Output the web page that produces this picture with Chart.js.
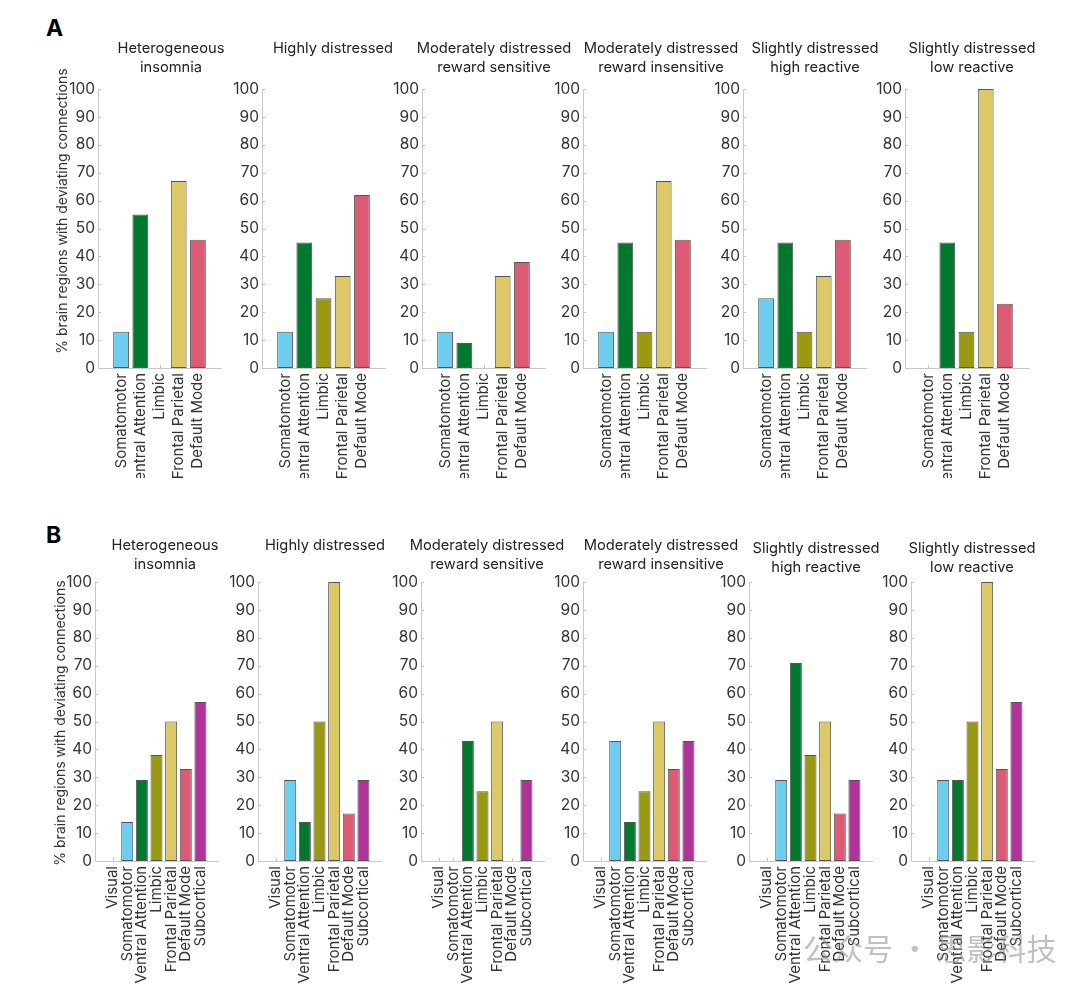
<!DOCTYPE html>
<html>
<head>
<meta charset="utf-8">
<script src="https://cdn.jsdelivr.net/npm/chart.js@4.4.1/dist/chart.umd.min.js"></script>
<style>
  body { margin: 0; background: #fff; }
  #wrap { position: relative; width: 1080px; height: 991px; overflow: hidden; }
  #wrap canvas { position: absolute; }
  .tag { position: absolute; font: bold 23px Inter, sans-serif; color: #000; }
  .mark { position: absolute; left: 803px; top: 925px; z-index: 5; white-space: nowrap;
          font: 30px "Noto Sans CJK SC"; color: rgba(140, 140, 140, 0.55); }
</style>
</head>
<body>
<div id="wrap">
  <div class="tag" style="left:46px; top:14px;">A</div>
  <div class="tag" style="left:46px; top:521px;">B</div>
  <div class="mark">公众号 · 思影科技</div>
</div>
<script>
// categories
var networksA = ['Somatomotor', 'Ventral Attention', 'Limbic', 'Frontal Parietal', 'Default Mode'];
var networksB = ['Visual', 'Somatomotor', 'Ventral Attention', 'Limbic', 'Frontal Parietal', 'Default Mode', 'Subcortical'];
var yTicks = [0, 10, 20, 30, 40, 50, 60, 70, 80, 90, 100];
var yTitle = '% brain regions with deviating connections';

var groupTitles = [
    ['Heterogeneous', 'insomnia'],
    ['Highly distressed'],
    ['Moderately distressed', 'reward sensitive'],
    ['Moderately distressed', 'reward insensitive'],
    ['Slightly distressed', 'high reactive'],
    ['Slightly distressed', 'low reactive']
];

// row A, % per network
var heteroA = [13, 55, 0, 67, 46];
var highlyA = [13, 45, 25, 33, 62];
var modSensA = [13, 9, 0, 33, 38];
var modInsensA = [13, 45, 13, 67, 46];
var slightHighA = [25, 45, 13, 33, 46];
var slightLowA = [0, 45, 13, 100, 23];

// row B, % per network
var heteroB = [0, 14, 29, 38, 50, 33, 57];
var highlyB = [0, 29, 14, 50, 100, 17, 29];
var modSensB = [0, 0, 43, 25, 50, 0, 29];
var modInsensB = [0, 43, 14, 25, 50, 33, 43];
var slightHighB = [0, 29, 71, 38, 50, 17, 29];
var slightLowB = [0, 29, 29, 50, 100, 33, 57];

var networkColors = {
    'Visual': '#332288',
    'Somatomotor': '#6ccdef',
    'Ventral Attention': '#00782d',
    'Limbic': '#999913',
    'Frontal Parietal': '#dcc866',
    'Default Mode': '#dc5a73',
    'Subcortical': '#b03399'
};

// panel placement (page pixels)
var rowA = { top: 30, plotTop: 89, plotBottom: 368, axisH: 110, titleTop: 49, yTitleX: 63, yTitleY: 211,
             axisX: [98, 262, 422, 583, 743, 905], titleDx: [73, 71, 72, 78, 72, 67], titleShift: [0, 0, 0, 0, 0, 0] };
var rowB = { top: 520, plotTop: 582, plotBottom: 861, axisH: 128, titleTop: 546, yTitleX: 61, yTitleY: 723,
             axisX: [95, 258, 421, 583, 749, 911], titleDx: [70, 67, 66, 78, 67, 61], titleShift: [0, 0, 0, 0, 3, 3] };
var plotW = 123;
var gap = 1.2;
var fontFam = 'Inter, sans-serif';

var panelDecor = {
    id: 'panelDecor',
    beforeDatasetsDraw: function(chart) {
        var ctx = chart.ctx, area = chart.chartArea;
        var xs = chart.scales.x, ys = chart.scales.y;
        ctx.save();
        ctx.strokeStyle = '#c4c4c4';
        ctx.lineWidth = 1;
        ctx.beginPath();
        yTicks.forEach(function(v) {
            var py = Math.round(ys.getPixelForValue(v)) + 0.5;
            ctx.moveTo(area.left, py);
            ctx.lineTo(area.left + 3, py);
        });
        xs.ticks.forEach(function(t) {
            var px = Math.round(xs.getPixelForValue(t.value)) + 0.5;
            ctx.moveTo(px, area.bottom);
            ctx.lineTo(px, area.bottom - 3);
        });
        ctx.stroke();
        ctx.restore();
    },
    afterDraw: function(chart, args, opts) {
        var ctx = chart.ctx, area = chart.chartArea;
        ctx.save();
        ctx.fillStyle = '#222';
        ctx.font = '14.7px ' + fontFam;
        ctx.textAlign = 'center';
        ctx.textBaseline = 'middle';
        opts.lines.forEach(function(line, i) {
            ctx.fillText(line, area.left + opts.dx, opts.y + i * 19);
        });
        if (opts.showYTitle) {
            ctx.translate(opts.yx, opts.yy);
            ctx.rotate(-Math.PI / 2);
            ctx.font = '14px ' + fontFam;
            ctx.fillStyle = '#333';
            ctx.fillText(yTitle, 0, 0);
        }
        ctx.restore();
    }
};

function drawPanel(row, idx, cats, values) {
    var yw = idx === 0 ? 62 : 40;
    var padR = 45;
    var left = row.axisX[idx] - yw;
    var width = yw + plotW + padR;
    var height = row.plotBottom - row.top + row.axisH;

    var canvas = document.createElement('canvas');
    canvas.width = width;
    canvas.height = height;
    canvas.style.left = left + 'px';
    canvas.style.top = row.top + 'px';
    document.getElementById('wrap').appendChild(canvas);

    var points = values.map(function(v, i) { return { x: i + 1, y: v }; });

    new Chart(canvas.getContext('2d'), {
        type: 'bar',
        data: {
            datasets: [{
                data: points,
                backgroundColor: cats.map(function(c) { return networkColors[c]; }),
                borderColor: '#555',
                borderWidth: 1,
                borderSkipped: false,
                categoryPercentage: 1,
                barPercentage: 0.82
            }]
        },
        options: {
            responsive: false,
            animation: false,
            devicePixelRatio: 1,
            events: [],
            layout: { padding: { top: row.plotTop - row.top, right: padR, left: 0, bottom: 0 } },
            plugins: {
                legend: { display: false },
                tooltip: { enabled: false },
                panelDecor: {
                    lines: groupTitles[idx],
                    dx: row.titleDx[idx],
                    y: row.titleTop + row.titleShift[idx] - row.top,
                    showYTitle: idx === 0,
                    yx: row.yTitleX - left,
                    yy: row.yTitleY - row.top
                }
            },
            scales: {
                x: {
                    type: 'linear',
                    offset: false,
                    min: 1 - gap,
                    max: cats.length + gap,
                    afterBuildTicks: function(axis) {
                        axis.ticks = cats.map(function(c, i) { return { value: i + 1 }; });
                    },
                    afterFit: function(axis) { axis.height = row.axisH; },
                    grid: { display: false, drawTicks: false },
                    border: { color: '#c8c8c8', width: 1 },
                    ticks: {
                        autoSkip: false,
                        minRotation: 90,
                        maxRotation: 90,
                        padding: 5,
                        color: '#333',
                        font: { family: fontFam, size: 15 },
                        callback: function(v) { return cats[v - 1]; }
                    }
                },
                y: {
                    min: 0,
                    max: 100,
                    afterFit: function(axis) { axis.width = yw; },
                    grid: { display: false, drawTicks: false },
                    border: { color: '#c8c8c8', width: 1 },
                    ticks: {
                        stepSize: 10,
                        padding: 3,
                        color: '#333',
                        font: { family: fontFam, size: 15.5 }
                    }
                }
            }
        },
        plugins: [panelDecor]
    });
}

var valuesA = [heteroA, highlyA, modSensA, modInsensA, slightHighA, slightLowA];
var valuesB = [heteroB, highlyB, modSensB, modInsensB, slightHighB, slightLowB];
valuesA.forEach(function(v, i) { drawPanel(rowA, i, networksA, v); });
valuesB.forEach(function(v, i) { drawPanel(rowB, i, networksB, v); });
</script>
</body>
</html>
